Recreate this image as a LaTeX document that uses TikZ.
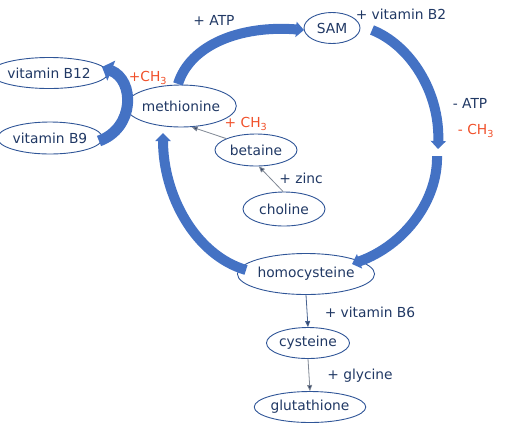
\documentclass[tikz,border=0pt]{standalone}
\usepackage{fontspec}
\setmainfont{DejaVu Sans}
\usetikzlibrary{arrows.meta,shapes.geometric}
\definecolor{navy}{HTML}{203864}
\definecolor{edge}{HTML}{2F5597}
\definecolor{band}{HTML}{4472C4}
\definecolor{redlab}{HTML}{F0502A}
\definecolor{thin}{HTML}{7F8794}
\tikzset{
  mol/.style={ellipse, draw=edge, line width=0.9pt, inner sep=0pt, text=navy,
    font=\fontsize{13.8}{16}\selectfont},
  lab/.style={text=navy, inner sep=0pt, font=\fontsize{13.8}{16}\selectfont},
  redl/.style={text=redlab, inner sep=0pt, font=\fontsize{13.8}{16}\selectfont},
  bigarrow/.style={draw=band, line width=10pt,
    -{Triangle[width=15pt,length=8pt]}},
  thinarrow/.style={draw=thin, line width=0.8pt,
    -{Triangle[width=5pt,length=6pt,fill=navy!80!gray]}},
}
\begin{document}
\begin{tikzpicture}[x=1pt,y=-1pt]
\useasboundingbox (0,0) rectangle (524,424);
% nodes
\node[mol, minimum width=96pt, minimum height=31pt] (b12) at (49,73) {vitamin B12};
\node[mol, minimum width=97pt, minimum height=32pt] (b9) at (50,138) {vitamin B9};
\node[mol, minimum width=97pt, minimum height=42pt] (meth) at (181,106) {methionine};
\node[mol, minimum width=56pt, minimum height=31pt] (sam) at (332,28) {SAM};
\node[mol, minimum width=82pt, minimum height=32pt] (bet) at (256,150) {betaine};
\node[mol, minimum width=82pt, minimum height=34pt] (chol) at (284,209) {choline};
\node[mol, minimum width=114pt, minimum height=41pt] (homo) at (306,274) {homocysteine};
\node[mol, minimum width=83pt, minimum height=31pt] (cys) at (308,343) {cysteine};
\node[mol, minimum width=87pt, minimum height=31pt] (glu) at (310,407) {glutathione};
% labels
\node[lab] (l1) at (214,20) {+ ATP};
\node[lab] (l2) at (401,14) {+ vitamin B2};
\node[lab] (l3) at (470,103) {- ATP};
\node[redl] (l4) at (476,131) {- CH\textsubscript{3}};
\node[redl] (l5) at (148,78) {+CH\textsubscript{3}};
\node[redl] (l6) at (246,124) {+ CH\textsubscript{3}};
\node[lab] (l7) at (301,178) {+ zinc};
\node[lab] (l8) at (370,312) {+ vitamin B6};
\node[lab] (l9) at (360,376) {+ glycine};
% big cycle arrow end points
\coordinate (a1s) at (178,84);
\coordinate (a1e) at (304,30);
\coordinate (a2s) at (372,30);
\coordinate (a2e) at (438,149);
\coordinate (a3s) at (437,156);
\coordinate (a3e) at (352,264);
\coordinate (a4s) at (246,270);
\coordinate (a4e) at (163,133);
\coordinate (a5s) at (99,141);
\coordinate (a5e) at (102,67);
\draw[bigarrow] (a1s) .. controls (190,45) and (240,25) .. (a1e);
\draw[bigarrow] (a2s) .. controls (410,45) and (440,92) .. (a2e);
\draw[bigarrow] (a3s) .. controls (438,200) and (405,245) .. (a3e);
\draw[bigarrow] (a4s) .. controls (195,255) and (163,195) .. (a4e);
\draw[draw=band, line width=11pt, -{Triangle[width=21pt,length=10pt]}]
  (a5s) .. controls (135,128) and (135,80) .. (a5e);
% thin arrows
\draw[thinarrow] (bet.159) -- (meth.-63);
\draw[thinarrow] (chol.93) -- (bet.-80);
\draw[thinarrow, draw=edge!70!gray] (homo.south) -- (cys.north);
\draw[thinarrow] (cys.south) -- (glu.north);
\end{tikzpicture}
\end{document}
